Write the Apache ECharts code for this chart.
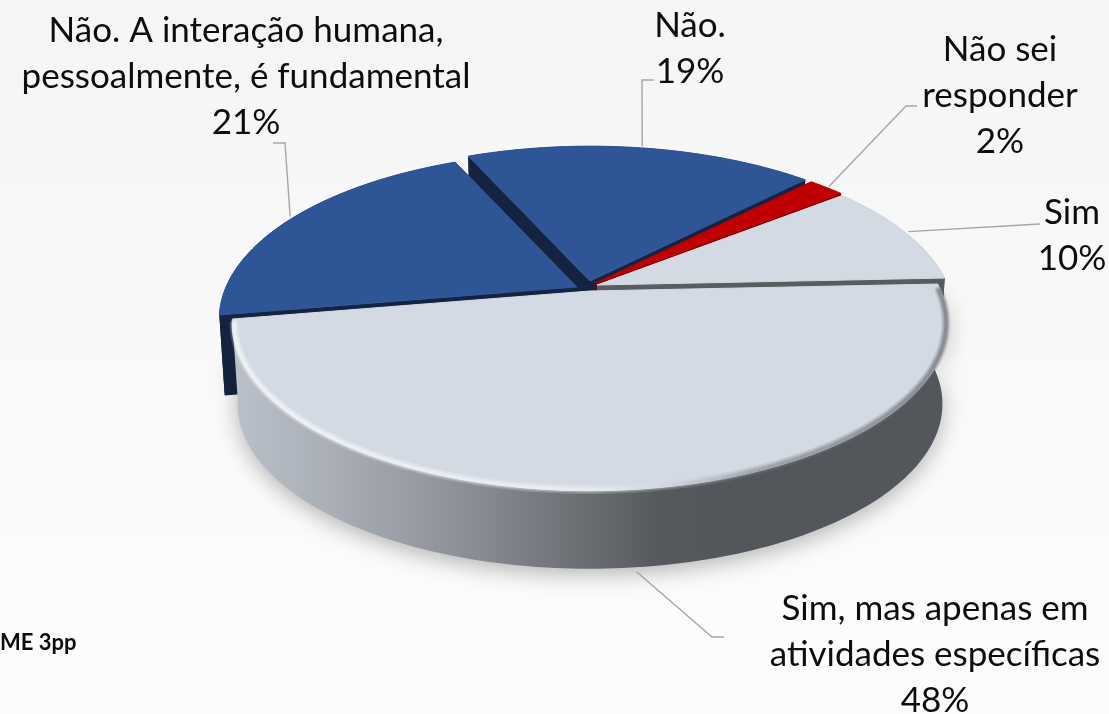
<!DOCTYPE html>
<html><head><meta charset="utf-8">
<style>html,body{margin:0;padding:0;background:#f8f8f8}#c{width:1109px;height:714px}</style>
<script src="https://cdn.jsdelivr.net/npm/echarts@6/dist/echarts.min.js"></script>
</head><body><div id="c"></div>
<script>
const categories = ["Sim, mas apenas em\natividades específicas", "Não. A interação humana,\npessoalmente, é fundamental", "Não.", "Não sei\nresponder", "Sim"];
const values = [48, 21, 19, 2, 10];

// layout, per slice in the same order
const apexes = [[590,291],[577,287],[590,281],[596,283],[597,285]];
const faceColors = ["#D3DAE3","#2E5596","#2E5596","#C00000","#D3DAE3"];
const wallColors = ["#595D61","#14233F","#14233F","#7A0000","#595D61"];
const zRank = [5,4,1,2,3];
const labelPos = [[935,655],[246,77],[690,49],[1000,96],[1072,236]];
const elbows = [[[712,637],[724,637]],[[285,143],[273,143]],[[642,80],[654,80]],[[906,106],[917,106]],[[1040,224]]];
const startDeg = -2.5, R = 351, B = 161, K = 0.194, DEPTH = 81, SHRINK = 0.985, FONT = 'Lato';

function proj(a, th, r){
  const u = r*Math.cos(th), v = r*Math.sin(th), w = 1 - K*v;
  return [a[0] + R*u/w, a[1] + B*v/w];
}
function drop(a, p){
  return [a[0] + (p[0]-a[0])*SHRINK, a[1] + (p[1]-a[1])*SHRINK + DEPTH];
}
function arc(a, t0, t1, r){
  const out = [], n = Math.max(4, Math.ceil((t1-t0)/0.02));
  for (let i = 0; i <= n; i++) out.push(proj(a, t0 + (t1-t0)*i/n, r));
  return out;
}
const total = values.reduce((s,v)=>s+v, 0);
const G = echarts.graphic.LinearGradient;

function renderItem(params, api){
  const i = params.dataIndex, value = api.value(0);
  let before = 0; for (let k = 0; k < i; k++) before += values[k];
  const t0 = (startDeg + before/total*360)*Math.PI/180;
  const t1 = t0 + value/total*2*Math.PI;
  const a = apexes[i], z = zRank[i]*10;
  const top = arc(a, t0, t1, 1), bottom = top.map(p=>drop(a,p));
  const kids = [];
  const wallFill = i === 0
    ? new G(235,0,720,0,[{offset:0,color:'#BAC0C9'},{offset:.2,color:'#A9AEB7'},{offset:.45,color:'#8F9299'},{offset:.7,color:'#6D7075'},{offset:.87,color:'#565A5E'},{offset:1,color:'#53565A'}],true)
    : wallColors[i];
  const wall = {type:'polygon', z2:z, shape:{points: top.concat(bottom.slice().reverse())}, style:{fill:wallFill}};
  if (i === 0) { wall.style.shadowBlur = 22; wall.style.shadowColor = 'rgba(0,0,0,0.28)'; wall.style.shadowOffsetY = 6; }
  kids.push(wall);
  if (i !== 0) [top[0], top[top.length-1]].forEach(p=>{
    kids.push({type:'polygon', z2:z+1, shape:{points:[a,p,drop(a,p),drop(a,a)]}, style:{fill:wallColors[i]}});
  });
  kids.push({type:'polygon', z2:z+2, shape:{points:[a].concat(top)},
    style:{fill:faceColors[i], stroke:faceColors[i], lineWidth:1, lineJoin:'round'}});
  if (i === 0) {
    const rim = arc(a, t0+0.04, t1-0.03, 0.995);
    const rimGrad = new G(230,0,950,0,[{offset:0,color:'#FFFFFF'},{offset:.5,color:'#F4F7FB'},{offset:.62,color:'#C9CFD8'},{offset:.74,color:'#7F8388'},{offset:1,color:'#595D61'}],true);
    [[9,.18],[6,.28],[3,.35]].forEach((s,j)=>{
      kids.push({type:'polyline', z2:z+3+j, shape:{points:rim}, style:{fill:null, stroke:rimGrad, lineWidth:s[0], opacity:s[1], lineCap:'round'}});
    });
  }
  // leader line starts just outside the slice's middle
  const mid = (t0+t1)/2;
  let anchor = proj(a, mid, 1.012);
  if (i === 0) anchor = drop(a, proj(a, mid, 1.018));
  kids.push({type:'polyline', z2:200, shape:{points:[anchor].concat(elbows[i])}, style:{fill:null, stroke:'#A6A6A6', lineWidth:1.4}});
  const n = categories[i] + '\n' + value + '%';
  kids.push({type:'text', z2:210, style:{text:n, x:labelPos[i][0], y:labelPos[i][1], align:'center', verticalAlign:'middle',
    fontFamily:FONT, fontSize:35, lineHeight:46, fill:'#0D0D0D'}});
  return {type:'group', children:kids};
}

const chart = echarts.init(document.getElementById('c'), null, {renderer:'canvas'});
chart.setOption({
  animation:false,
  backgroundColor: new G(0,0,0,1,[{offset:0,color:'#F5F5F5'},{offset:1,color:'#FDFDFD'}]),
  series:[{type:'custom', coordinateSystem:'none', renderItem, silent:true,
    data: values.map((v,i)=>({name:categories[i], value:[v]}))}],
  graphic:[{type:'text', left:0, top:632, style:{text:'ME 3pp', fontFamily:FONT, fontWeight:'bold', fontSize:22, fill:'#0D0D0D'}}]
});
</script></body></html>
